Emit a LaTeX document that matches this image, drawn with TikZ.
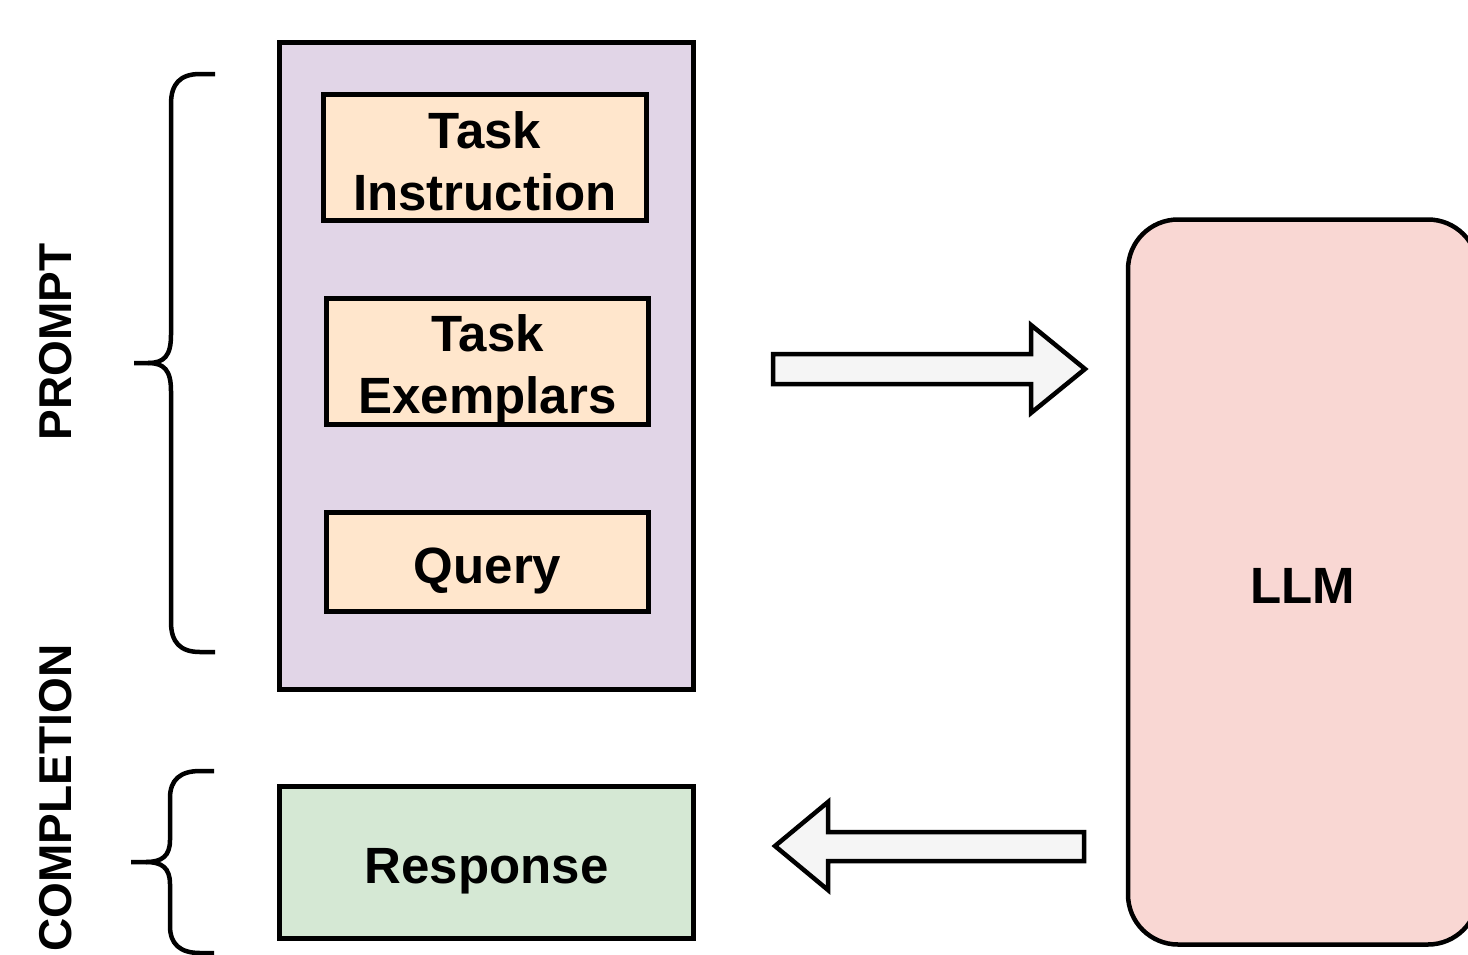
\documentclass[tikz,border=0pt]{standalone}
\usepackage{fontspec}
\setmainfont{Liberation Sans}
\definecolor{purplebg}{HTML}{E1D5E7}
\definecolor{orangebg}{HTML}{FFE6CC}
\definecolor{greenbg}{HTML}{D5E8D4}
\definecolor{pinkbg}{HTML}{F9D7D3}
\definecolor{arrowbg}{HTML}{F5F5F5}
\newcommand\bstrut{\rule[-9.2pt]{0pt}{62pt}}
\tikzset{
  box/.style={draw=black, line width=4.5pt, inner sep=0pt, align=center,
    font=\fontsize{51}{62}\selectfont\bfseries},
  partbox/.style={box, fill=orangebg},
  sidelabel/.style={rotate=90, inner sep=0pt, font=\fontsize{46}{54}\selectfont\bfseries},
  brace/.style={draw=black, line width=4.5pt, line cap=butt},
  blockarrow/.style={draw=black, line width=4.5pt, fill=arrowbg, line join=miter}
}
\begin{document}
\begin{tikzpicture}[x=1pt, y=-1pt]
\useasboundingbox (0,0) rectangle (1468,954);
\clip (0,0) rectangle (1468,954);

% prompt container
\node[box, fill=purplebg, minimum width=414pt, minimum height=647pt] (prompt) at (486.5,366) {};
\node[partbox, minimum width=323pt, minimum height=126pt] (instr) at (485,157.5) {\bstrut Task\\\bstrut Instruction};
\node[partbox, minimum width=322pt, minimum height=126pt] (exem) at (487.5,361.5) {\bstrut Task\\\bstrut Exemplars};
\node[partbox, minimum width=322pt, minimum height=99pt] (query) at (487.5,562) {\bstrut Query};

% response
\node[box, fill=greenbg, minimum width=414pt, minimum height=152pt] (resp) at (486.5,862.5) {\bstrut Response};

% LLM
\node[box, fill=pinkbg, rounded corners=50pt, minimum width=350pt, minimum height=725pt] (llm) at (1303,582) {\bstrut LLM};

% side labels
\node[sidelabel] (plabel) at (56,342) {PROMPT};
\node[sidelabel] (clabel) at (56,798) {COMPLETION};

% braces
\draw[brace] (215,74) -- (200,74) .. controls (180,74) and (171,84) .. (171,104)
  -- (171,335) .. controls (171,356) and (164,363) .. (148,363) -- (134,363);
\draw[brace] (148,363) .. controls (164,363) and (171,370) .. (171,391)
  -- (171,622) .. controls (171,642) and (180,652) .. (200,652) -- (215,652);

\draw[brace] (214,771) -- (200,771) .. controls (180,771) and (170,780) .. (170,798)
  -- (170,840) .. controls (170,856) and (162,862) .. (146,862) -- (131,862);
\draw[brace] (146,862) .. controls (162,862) and (170,868) .. (170,884)
  -- (170,926) .. controls (170,944) and (180,953) .. (200,953) -- (214,953);

% block arrows
\draw[blockarrow] (773,354) -- (1031,354) -- (1031,325) -- (1085,369) -- (1031,413)
  -- (1031,384) -- (773,384) -- cycle;
\draw[blockarrow] (1084,832) -- (828,832) -- (828,802) -- (775,846) -- (828,890)
  -- (828,861) -- (1084,861) -- cycle;
\end{tikzpicture}
\end{document}
